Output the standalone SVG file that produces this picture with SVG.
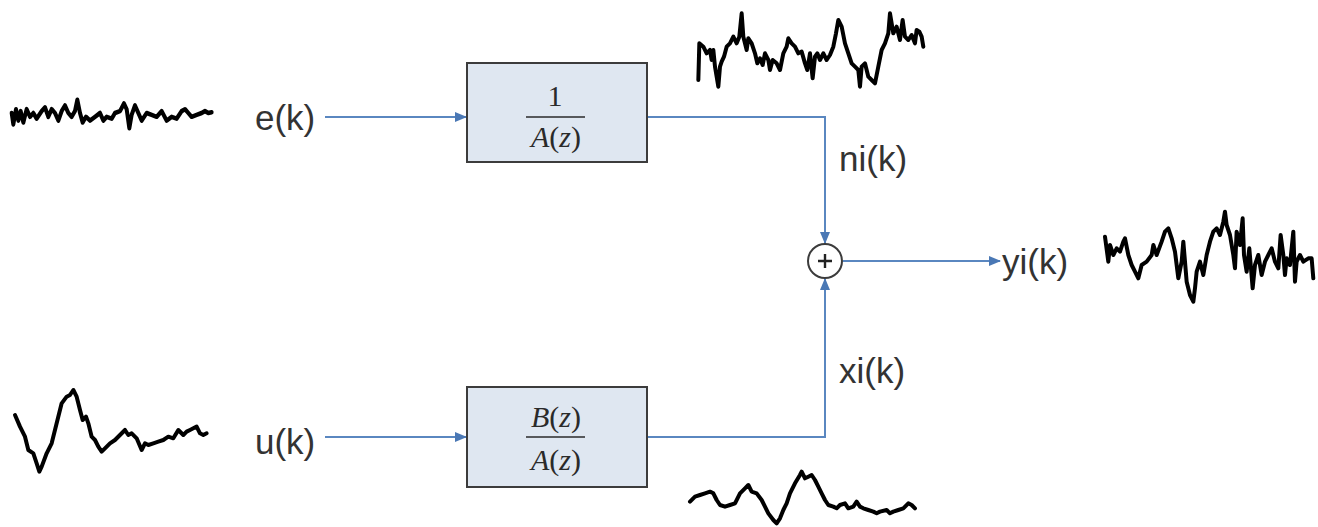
<svg xmlns="http://www.w3.org/2000/svg" width="1318" height="527" viewBox="0 0 1318 527">
<style>
.lbl{font-family:"Liberation Sans",Arial,sans-serif;font-size:35px;fill:#333}
.math{font-family:"Liberation Serif","Times New Roman",serif;font-size:30px;fill:#2a2a2a}
.box{fill:#dfe7f1;stroke:#3c3c3c;stroke-width:2}
.wire{fill:none;stroke:#5a87c0;stroke-width:2}
.wave{fill:none;stroke:#000;stroke-width:12;stroke-linejoin:round;stroke-linecap:round}
</style>
<defs>
<marker id="ah" markerWidth="12" markerHeight="10" refX="11" refY="5" orient="auto" markerUnits="userSpaceOnUse">
<path d="M0,0 L12,5 L0,10 Z" fill="#4a78b5"/>
</marker>
</defs>
<rect width="1318" height="527" fill="#fff"/>

<g id="connectors">
<path class="wire" d="M325,117 H466" marker-end="url(#ah)"/>
<path class="wire" d="M325,437 H466" marker-end="url(#ah)"/>
<path class="wire" d="M648,117 H825 V243" marker-end="url(#ah)"/>
<path class="wire" d="M648,437 H825 V279" marker-end="url(#ah)"/>
<path class="wire" d="M843,261 H1000" marker-end="url(#ah)"/>
</g>

<g id="block1">
<rect class="box" x="467" y="63" width="180" height="99"/>
<text class="math" x="555" y="106" text-anchor="middle" fill="#3a2a1a">1</text>
<line x1="526" y1="117" x2="585" y2="117" stroke="#2a2a2a" stroke-width="1.6"/>
<text class="math" x="556" y="147" text-anchor="middle"><tspan font-style="italic">A</tspan>(<tspan font-style="italic">z</tspan>)</text>
</g>

<g id="block2">
<rect class="box" x="467" y="387" width="180" height="100"/>
<text class="math" x="556" y="427" text-anchor="middle"><tspan font-style="italic">B</tspan>(<tspan font-style="italic">z</tspan>)</text>
<line x1="526" y1="437" x2="585" y2="437" stroke="#2a2a2a" stroke-width="1.6"/>
<text class="math" x="556" y="470" text-anchor="middle"><tspan font-style="italic">A</tspan>(<tspan font-style="italic">z</tspan>)</text>
</g>

<g id="sum">
<circle cx="825" cy="261" r="17" fill="#fff" stroke="#3c3c3c" stroke-width="2"/>
<path d="M818,261 H832 M825,254 V268" stroke="#222" stroke-width="2.4"/>
</g>

<g id="labels">
<text class="lbl" x="255" y="130">e(k)</text>
<text class="lbl" x="255" y="454">u(k)</text>
<text class="lbl" x="839" y="171">ni(k)</text>
<text class="lbl" x="839" y="383">xi(k)</text>
<text class="lbl" x="1002" y="274">yi(k)</text>
</g>

<g id="waveforms">
<polyline class="wave" transform="translate(0,75) scale(0.3333,0.38)" points="35,100 40,130 48,90 55,120 62,95 70,125 80,90 90,110 100,100 110,115 125,95 135,85 145,110 155,90 165,100 175,120 185,95 195,80 205,100 215,110 225,95 232,65 240,100 248,125 258,110 270,120 285,110 300,100 310,120 320,110 335,115 345,100 360,95 372,75 380,90 388,140 395,105 405,80 415,100 425,120 440,100 455,105 470,110 485,95 500,120 515,110 530,115 545,95 555,90 565,100 575,110 590,105 605,100 615,95 625,100 635,98"/>
<polyline class="wave" transform="translate(680,0) scale(0.3333)" points="55,240 58,130 70,140 80,160 90,150 95,180 100,150 105,200 110,230 115,260 120,200 125,185 132,170 140,140 150,130 160,110 170,130 178,110 185,40 190,110 200,150 205,115 215,130 225,160 232,190 240,175 248,195 255,160 265,180 270,210 278,180 290,190 300,210 310,160 320,140 325,115 335,130 345,140 355,160 365,155 375,190 382,210 390,160 398,235 405,170 412,160 420,180 430,160 440,180 450,165 460,140 468,100 475,60 485,80 495,130 505,160 515,190 525,200 535,210 540,260 545,200 555,190 565,230 575,240 585,250 595,200 605,150 615,130 625,100 630,40 640,100 650,80 660,120 668,60 675,110 685,120 695,105 705,130 710,90 718,95 725,110 730,140"/>
<polyline class="wave" transform="translate(1090,195) scale(0.3333)" points="45,125 55,200 60,150 70,180 80,160 90,170 100,140 105,130 115,180 125,210 135,230 145,250 155,210 170,200 185,180 190,150 200,180 215,140 225,110 235,100 245,130 255,170 265,250 275,200 280,140 285,200 290,260 300,300 310,320 315,280 320,230 330,200 340,240 350,180 360,140 370,110 380,100 390,120 400,80 405,50 410,90 420,120 430,180 435,220 440,110 450,150 458,70 462,180 470,230 478,160 488,280 495,210 505,180 515,240 525,200 535,180 545,160 555,200 565,220 572,120 580,180 585,240 590,190 600,210 610,110 615,260 620,200 630,180 640,200 655,190 665,190 670,250"/>
<polyline class="wave" transform="translate(0,370) scale(0.3333)" points="45,135 60,170 75,200 85,240 100,250 110,280 118,305 125,290 140,250 155,220 170,160 185,100 200,80 210,75 220,60 230,80 240,120 248,150 258,140 265,160 275,200 285,210 295,230 305,245 315,235 330,220 345,210 360,195 375,180 385,195 395,190 410,205 425,240 435,220 445,225 460,220 475,215 490,210 505,200 520,205 535,180 550,195 560,185 570,180 580,175 590,170 600,190 610,195 620,190"/>
<polyline class="wave" transform="translate(680,460) scale(0.3333)" points="30,125 45,110 60,105 75,100 90,95 100,100 110,120 120,135 135,140 150,135 165,130 180,100 195,85 205,75 215,95 230,100 245,120 255,140 265,160 280,180 290,190 300,175 310,150 320,130 330,100 345,70 360,45 365,35 375,55 385,50 395,45 405,60 415,80 425,100 435,120 445,135 460,140 470,145 480,135 495,130 505,145 520,140 530,125 540,140 550,145 565,150 580,155 590,160 600,155 620,150 630,160 640,155 655,150 670,145 685,130 695,135 705,145"/>
</g>
</svg>
